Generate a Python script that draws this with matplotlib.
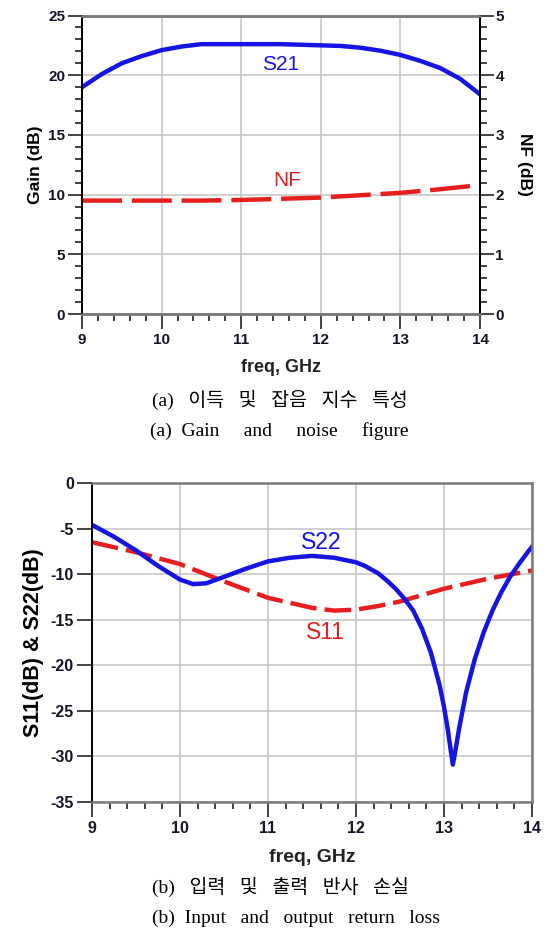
import matplotlib.pyplot as plt
from matplotlib.ticker import MultipleLocator

plt.rcParams['font.family'] = ['Liberation Sans', 'DejaVu Sans']
plt.rcParams['axes.unicode_minus'] = False

# (a) gain and noise figure
freq_gain = [9.0, 9.25, 9.5, 9.75, 10.0, 10.25, 10.5, 10.75, 11.0, 11.25, 11.5,
             11.75, 12.0, 12.25, 12.5, 12.75, 13.0, 13.25, 13.5, 13.75, 14.0]
s21 = [19.0, 20.1, 21.0, 21.6, 22.1, 22.4, 22.6, 22.6, 22.6, 22.6, 22.6,
       22.55, 22.5, 22.45, 22.3, 22.05, 21.7, 21.2, 20.6, 19.7, 18.4]

freq_nf = [9.0, 9.5, 10.0, 10.5, 11.0, 11.5, 12.0, 12.5, 13.0, 13.5, 14.0]
nf = [1.90, 1.90, 1.90, 1.90, 1.91, 1.93, 1.95, 1.99, 2.03, 2.09, 2.16]

# (b) return loss
freq_s22 = [9.0, 9.25, 9.5, 9.75, 10.0, 10.15, 10.3, 10.5, 10.75, 11.0, 11.25,
            11.5, 11.75, 12.0, 12.1, 12.25, 12.35, 12.45, 12.55, 12.65, 12.75,
            12.85, 12.95, 13.0, 13.04, 13.07, 13.1, 13.13, 13.17, 13.25, 13.35,
            13.45, 13.55, 13.65, 13.75, 13.85, 13.95, 14.0]
s22 = [-4.6, -5.9, -7.4, -9.1, -10.6, -11.1, -11.0, -10.3, -9.4, -8.6, -8.2,
       -8.0, -8.2, -8.7, -9.1, -9.9, -10.7, -11.6, -12.7, -14.0, -16.0,
       -18.6, -22.2, -24.6, -26.9, -28.9, -30.9, -29.3, -27.0, -23.0, -19.3,
       -16.4, -14.0, -12.0, -10.3, -8.9, -7.6, -7.0]

freq_s11 = [9.0, 9.5, 10.0, 10.5, 11.0, 11.5, 11.75, 12.0, 12.25, 12.5, 13.0, 13.5, 14.0]
s11 = [-6.5, -7.6, -8.9, -10.8, -12.6, -13.7, -14.0, -13.9, -13.5, -13.0, -11.6, -10.5, -9.6]

x_ticks = [9, 10, 11, 12, 13, 14]
blue = '#1414e6'
red = '#e61e1e'
grid_c = '#c8c8c8'
spine_gray = '#7a7a7a'
lbl_c = '#15152a'

fig = plt.figure(figsize=(5.53, 9.34), dpi=100)


def style_x(ax, size):
    ax.set_xlim(9, 14)
    ax.set_xticks(x_ticks)
    ax.xaxis.set_minor_locator(MultipleLocator(0.2))
    ax.tick_params(axis='x', which='major', direction='out', length=11, width=1.2,
                   color='#222', pad=3, labelsize=size, labelcolor=lbl_c)
    ax.tick_params(axis='x', which='minor', direction='out', length=5, width=1.2, color='#222')
    for t in ax.get_xticklabels():
        t.set_fontweight('bold')
    ax.grid(True, which='major', color=grid_c, lw=1.2)
    ax.set_axisbelow(True)


# ---- top chart
ax1 = fig.add_axes([0.1483, 0.6638, 0.7197, 0.3196])
ax1.plot(freq_gain, s21, color=blue, lw=3.2)
style_x(ax1, 11)
ax1.set_ylim(0, 25)
ax1.set_yticks([0, 5, 10, 15, 20, 25])
ax1.yaxis.set_minor_locator(MultipleLocator(1))
ax1.tick_params(axis='y', which='major', length=10, width=1.2, color='#222', pad=2,
                labelsize=11, labelcolor=lbl_c)
ax1.tick_params(axis='y', which='minor', length=5, width=1.2, color='#222')
for t in ax1.get_yticklabels():
    t.set_fontweight('bold')
ax1.set_ylabel('Gain (dB)', fontsize=12.5, fontweight='bold', labelpad=4)
ax1.text(11.5, 20.9, 'S21', color=blue, fontsize=15, ha='center', va='center')

ax2 = ax1.twinx()
ax2.plot(freq_nf, nf, color=red, lw=3.2, dashes=(9, 2.2))
ax2.set_ylim(0, 5)
ax2.set_yticks([0, 1, 2, 3, 4, 5])
ax2.yaxis.set_minor_locator(MultipleLocator(0.2))
ax2.tick_params(axis='y', which='major', length=10, width=1.2, color='#222', pad=1,
                labelsize=11, labelcolor=lbl_c)
ax2.tick_params(axis='y', which='minor', length=5, width=1.2, color='#222')
for t in ax2.get_yticklabels():
    t.set_fontweight('bold')
ax2.set_ylabel('NF (dB)', fontsize=12.5, fontweight='bold', rotation=270, labelpad=20)
ax2.text(11.58, 2.24, 'NF', color=red, fontsize=15, ha='center', va='center')

for ax in (ax1, ax2):
    ax.spines['top'].set_color(spine_gray)
    ax.spines['bottom'].set_color(spine_gray)
    ax.spines['top'].set_linewidth(1.8)
    ax.spines['bottom'].set_linewidth(1.8)
    ax.spines['left'].set_color('black')
    ax.spines['right'].set_color('black')
    ax.spines['left'].set_linewidth(1.4)
    ax.spines['right'].set_linewidth(1.4)

fig.text(0.5 * (82 + 480) / 553, 1 - 368 / 934, 'freq, GHz', fontsize=13,
         fontweight='bold', ha='center', va='center', color='#222')

# ---- bottom chart
ax3 = fig.add_axes([0.1664, 0.1413, 0.7957, 0.3416])
ax3.plot(freq_s11, s11, color=red, lw=3.2, dashes=(6, 1.8))
ax3.plot(freq_s22, s22, color=blue, lw=3.2)
style_x(ax3, 11.5)
ax3.set_ylim(-35, 0)
ax3.set_yticks([0, -5, -10, -15, -20, -25, -30, -35])
ax3.tick_params(axis='y', which='major', length=11, width=1.2, color='#222', pad=2,
                labelsize=11.5, labelcolor=lbl_c)
for t in ax3.get_yticklabels():
    t.set_fontweight('bold')
ax3.set_ylabel('S11(dB) & S22(dB)', fontsize=15.5, fontweight='bold', labelpad=5)
ax3.text(11.6, -6.5, 'S22', color=blue, fontsize=16.5, ha='center', va='center')
ax3.text(11.65, -16.4, 'S11', color=red, fontsize=16.5, ha='center', va='center')
for side in ('top', 'right', 'bottom'):
    ax3.spines[side].set_color(spine_gray)
    ax3.spines[side].set_linewidth(1.8)
ax3.spines['left'].set_color('black')
ax3.spines['left'].set_linewidth(1.4)

fig.text(0.5 * (92 + 532) / 553, 1 - 858 / 934, 'freq, GHz', fontsize=14,
         fontweight='bold', ha='center', va='center', color='#222')

# captions
cap_font = ['Liberation Serif', 'Noto Sans CJK KR']
fig.text(152 / 553, 1 - 400 / 934, '(a)   이득   및   잡음   지수   특성', fontsize=14,
         family=cap_font, ha='left', va='center')
fig.text(150 / 553, 1 - 431 / 934, '(a)  Gain     and     noise     figure', fontsize=14,
         family=cap_font, ha='left', va='center')
fig.text(152 / 553, 1 - 887 / 934, '(b)   입력   및   출력   반사   손실', fontsize=14,
         family=cap_font, ha='left', va='center')
fig.text(152 / 553, 1 - 918 / 934, '(b)  Input   and   output   return   loss', fontsize=14,
         family=cap_font, ha='left', va='center')

fig.savefig('out.png', dpi=100)
